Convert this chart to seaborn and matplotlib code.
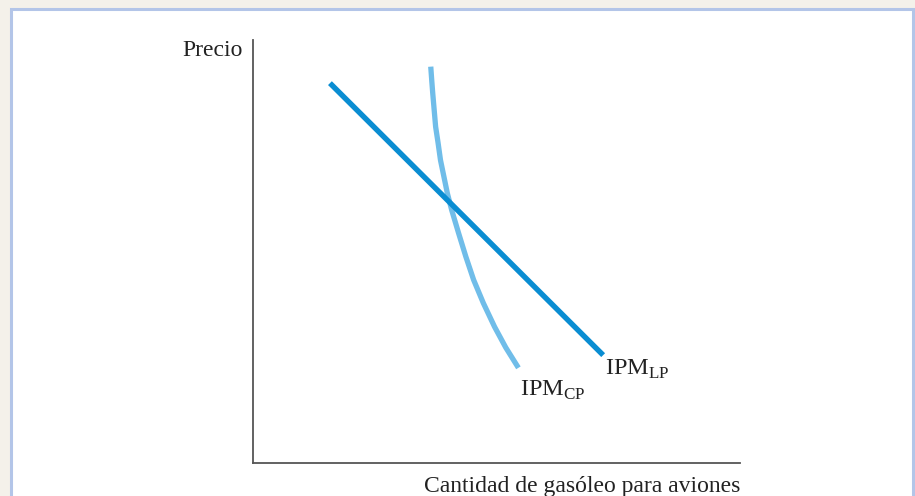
import numpy as np
import pandas as pd
import seaborn as sns
import matplotlib.pyplot as plt
from matplotlib.patches import Rectangle

# --- DATA (arbitrary units 0-10) ---
lp_x = [1.58, 7.19]
lp_y = [8.98, 2.55]

cp_x = [3.65, 3.67, 3.69, 3.72, 3.75, 3.80, 3.85, 3.92, 3.99, 4.08,
        4.22, 4.37, 4.53, 4.73, 4.96, 5.19, 5.45]
cp_y = [9.37, 9.05, 8.75, 8.35, 7.95, 7.57, 7.16, 6.77, 6.38, 5.98,
        5.44, 4.88, 4.33, 3.78, 3.22, 2.73, 2.25]

x_label = "Cantidad de gasóleo para aviones"
y_label = "Precio"

LP_COLOR = "#0a8dd2"
CP_COLOR = "#70bde9"
AXIS_COLOR = "#555555"
TEXT_COLOR = "#222222"

sns.set_style("white")
plt.rcParams['font.family'] = ['Liberation Serif', 'DejaVu Serif']
plt.rcParams['mathtext.fontset'] = 'custom'
plt.rcParams['mathtext.rm'] = 'Liberation Serif'

W, H = 915, 496
fig = plt.figure(figsize=(W / 100, H / 100), dpi=100)
fig.patch.set_facecolor("#f4f1ea")

# white panel with light blue border (behind the axes)
panel = Rectangle((11 / W, -0.05), 902 / W, 1.05 - 9 / H, transform=fig.transFigure,
                  facecolor="white", edgecolor="#b3c5e8", linewidth=2.2, zorder=-10)
fig.patches.append(panel)

ax = fig.add_axes([253 / W, 1 - 463 / H, (740 - 253) / W, (463 - 40) / H])
ax.set_facecolor("none")
ax.set_zorder(5)

lp = pd.DataFrame({"x": lp_x, "y": lp_y})
cp = pd.DataFrame({"x": cp_x, "y": cp_y})

sns.lineplot(data=cp, x="x", y="y", sort=False, color=CP_COLOR, lw=3.8, ax=ax,
             solid_capstyle="butt", solid_joinstyle="round")
sns.lineplot(data=lp, x="x", y="y", sort=False, color=LP_COLOR, lw=3.9, ax=ax,
             solid_capstyle="butt")

ax.set_xlim(0, 10)
ax.set_ylim(0, 10)
ax.set_xticks([])
ax.set_yticks([])
ax.set_xlabel("")
ax.set_ylabel("")
for side in ["top", "right"]:
    ax.spines[side].set_visible(False)
for side in ["left", "bottom"]:
    ax.spines[side].set_color(AXIS_COLOR)
    ax.spines[side].set_linewidth(1.3)

# curve labels
ax.text(cp_x[-1] + 0.03, cp_y[-1] - 0.27, r"IPM$_{\mathrm{CP}}$", fontsize=17.5,
        color=TEXT_COLOR, ha="left", va="top")
ax.text(lp_x[-1] + 0.04, lp_y[-1] - 0.07, r"IPM$_{\mathrm{LP}}$", fontsize=17.5,
        color=TEXT_COLOR, ha="left", va="top")

# axis titles
ax.text(-0.022, 1.0, y_label, transform=ax.transAxes, fontsize=17,
        color=TEXT_COLOR, ha="right", va="top")
ax.text(1.0, -0.03, x_label, transform=ax.transAxes, fontsize=17,
        color=TEXT_COLOR, ha="right", va="top")

fig.savefig("out.png", dpi=100, facecolor=fig.get_facecolor())
